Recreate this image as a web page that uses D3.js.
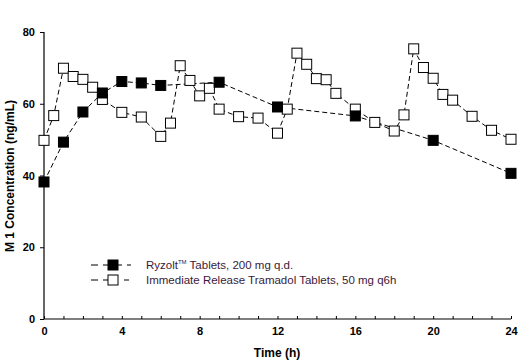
<!DOCTYPE html>
<html>
<head>
<meta charset="utf-8">
<script src="https://cdn.jsdelivr.net/npm/d3@7"></script>
<style>
  html, body { margin: 0; padding: 0; background: #fff; }
  svg { display: block; }
</style>
</head>
<body>
<svg id="chart" width="529" height="364"></svg>
<script>
// ---- data ----
const ryzoltTime = [0, 1, 2, 3, 4, 5, 6, 9, 12, 16, 20, 24];
const ryzoltConc = [38.2, 49.3, 57.7, 63.0, 66.2, 65.8, 65.1, 66.0, 59.1, 56.6, 49.8, 40.6];

const irTime = [0, 0.5, 1, 1.5, 2, 2.5, 3, 4, 5, 6, 6.5, 7, 7.5, 8, 8.5, 9, 10, 11, 12, 12.5, 13, 13.5, 14, 14.5, 15, 16, 17, 18, 18.5, 19, 19.5, 20, 20.5, 21, 22, 23, 24];
const irConc = [49.8, 56.7, 69.9, 67.6, 66.8, 64.6, 61.2, 57.6, 56.3, 50.9, 54.6, 70.6, 66.5, 62.2, 64.3, 58.5, 56.4, 56.0, 51.8, 58.5, 74.1, 71.0, 67.0, 66.7, 62.9, 58.5, 54.8, 52.4, 56.9, 75.3, 70.1, 67.1, 62.6, 61.0, 56.5, 52.6, 50.1];

const xTicks = [0, 4, 8, 12, 16, 20, 24];
const xMinorTicks = d3.range(0, 25, 1);
const yTicks = [0, 20, 40, 60, 80];

const legendLabels = ["Ryzolt\u2122 Tablets, 200 mg q.d.", "Immediate Release Tramadol Tablets, 50 mg q6h"];

// ---- layout ----
const svg = d3.select("#chart");
const x = d3.scaleLinear().domain([0, 24]).range([44, 511]);
const y = d3.scaleLinear().domain([0, 80]).range([319, 32]);

const font = "Arial, 'Liberation Sans', sans-serif";

// axes
const yAxis = svg.append("g").attr("transform", "translate(44,0)")
  .call(d3.axisLeft(y).tickValues(yTicks).tickSize(4).tickPadding(5).tickFormat(d3.format("d")));
yAxis.select(".domain").attr("stroke", "#000").attr("stroke-width", 1.2).attr("d", `M0,${y(80)}V${y(0)}`);
yAxis.selectAll("text").attr("font-family", font).attr("font-size", 11).attr("font-weight", "bold").attr("fill", "#000");

const xMinor = svg.append("g").attr("transform", "translate(0,319)")
  .call(d3.axisTop(x).tickValues(xMinorTicks).tickSize(3).tickFormat(""));
xMinor.select(".domain").remove();

const xAxis = svg.append("g").attr("transform", "translate(0,319)")
  .call(d3.axisBottom(x).tickValues(xTicks).tickSize(0).tickPadding(8).tickFormat(d3.format("d")));
xAxis.select(".domain").attr("stroke", "#000").attr("stroke-width", 1.2).attr("d", `M${x(0)},0H${x(24)}`);
xAxis.selectAll("text").attr("font-family", font).attr("font-size", 11).attr("font-weight", "bold").attr("fill", "#000");

// axis titles
svg.append("text")
  .attr("x", 277).attr("y", 357)
  .attr("text-anchor", "middle")
  .attr("font-family", font).attr("font-size", 12).attr("font-weight", "bold")
  .text("Time (h)");

svg.append("text")
  .attr("transform", "translate(14,176) rotate(-90)")
  .attr("text-anchor", "middle")
  .attr("font-family", font).attr("font-size", 12).attr("font-weight", "bold")
  .text("M 1 Concentration (ng/mL)");

// series
const line = d3.line().x(d => x(d[0])).y(d => y(d[1]));
const ryz = ryzoltTime.map((t, i) => [t, ryzoltConc[i]]);
const ir = irTime.map((t, i) => [t, irConc[i]]);

svg.append("path").datum(ir).attr("d", line)
  .attr("fill", "none").attr("stroke", "#000").attr("stroke-width", 1).attr("stroke-dasharray", "5,3");
svg.append("path").datum(ryz).attr("d", line)
  .attr("fill", "none").attr("stroke", "#000").attr("stroke-width", 1).attr("stroke-dasharray", "5,3");

const ms = 10;
svg.append("g").selectAll("rect").data(ir).join("rect")
  .attr("x", d => x(d[0]) - ms / 2).attr("y", d => y(d[1]) - ms / 2)
  .attr("width", ms).attr("height", ms)
  .attr("fill", "#fff").attr("stroke", "#000").attr("stroke-width", 1);
svg.append("g").selectAll("rect").data(ryz).join("rect")
  .attr("x", d => x(d[0]) - ms / 2).attr("y", d => y(d[1]) - ms / 2)
  .attr("width", ms).attr("height", ms)
  .attr("fill", "#000").attr("stroke", "#000").attr("stroke-width", 1);

// legend
const legend = svg.append("g");
const rows = [265, 280];
legendLabels.forEach((lab, i) => {
  const g = legend.append("g").attr("transform", `translate(0,${rows[i]})`);
  g.append("line").attr("x1", 91).attr("x2", 131).attr("y1", 0).attr("y2", 0)
    .attr("stroke", "#000").attr("stroke-width", 1).attr("stroke-dasharray", i === 0 ? "7,5" : "7,5,7,5,2");
  g.append("rect").attr("x", 113 - ms / 2).attr("y", -ms / 2).attr("width", ms).attr("height", ms)
    .attr("fill", i === 0 ? "#000" : "#fff").attr("stroke", "#000");
  const t = g.append("text").attr("x", 146).attr("y", 4)
    .attr("font-family", font).attr("font-size", 11.5).attr("fill", "#3a1a3a");
  if (i === 0) {
    t.append("tspan").text("Ryzolt");
    t.append("tspan").attr("font-size", 6).attr("dy", -5).text("TM");
    t.append("tspan").attr("dy", 5).text(" Tablets, 200 mg q.d.");
  } else {
    t.text(lab);
  }
});
</script>
</body>
</html>
